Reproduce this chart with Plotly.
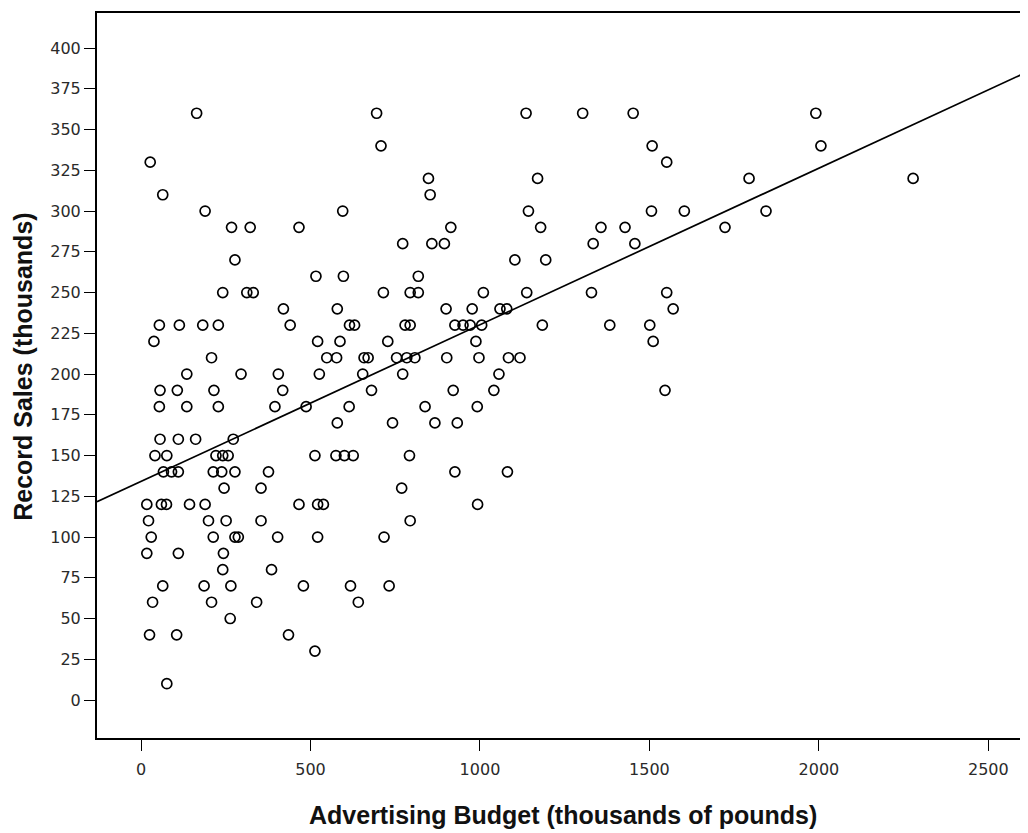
import plotly.graph_objects as go

# Record sales (thousands) rows and advertising budgets (thousands of pounds)
rows = {
    360: [164, 695, 1136, 1303, 1452, 1991],
    340: [708, 1508, 2006],
    330: [27, 1551],
    320: [848, 1170, 1794, 2278],
    310: [64, 853],
    300: [189, 595, 1143, 1506, 1603, 1844],
    290: [267, 322, 466, 914, 1179, 1357, 1428, 1723],
    280: [772, 858, 895, 1334, 1457],
    270: [277, 1103, 1194],
    260: [516, 597, 818],
    250: [241, 312, 331, 715, 794, 818, 1010, 1138, 1329, 1551],
    240: [420, 579, 900, 977, 1059, 1079, 1570],
    230: [54, 113, 182, 228, 440, 615, 630, 779, 794, 926, 950, 971, 1005, 1184, 1383, 1501],
    220: [38, 521, 587, 728, 988, 1511],
    210: [208, 548, 577, 658, 670, 754, 784, 808, 902, 997, 1084, 1118],
    200: [135, 295, 405, 526, 654, 772, 1056],
    190: [56, 107, 215, 418, 680, 921, 1041, 1546],
    180: [54, 135, 228, 395, 487, 614, 838, 992],
    170: [579, 742, 867, 933],
    160: [56, 110, 161, 272],
    150: [41, 76, 221, 241, 257, 513, 575, 600, 626, 792],
    140: [66, 90, 110, 213, 238, 277, 376, 926, 1081],
    130: [245, 354, 769],
    120: [17, 60, 75, 143, 189, 466, 521, 538, 993],
    110: [22, 199, 251, 354, 794],
    100: [30, 213, 277, 287, 403, 521, 717],
    90: [17, 110, 243],
    80: [241, 385],
    70: [64, 186, 265, 479, 618, 732],
    60: [34, 208, 341, 641],
    50: [263],
    40: [25, 105, 435],
    30: [513],
    10: [76],
}

adverts = []
sales = []
for s, xs in rows.items():
    for a in xs:
        adverts.append(a)
        sales.append(s)

# Fit line
fit_intercept = 134.1
fit_slope = 0.0961
x_range = [-130, 2617]
y_range = [-23.3, 421.5]

x_ticks = [0, 500, 1000, 1500, 2000, 2500]
y_ticks = list(range(0, 401, 25))

x_title = "Advertising Budget (thousands of pounds)"
y_title = "Record Sales (thousands)"

fig = go.Figure()
fig.add_trace(go.Scatter(
    x=adverts, y=sales, mode="markers",
    marker=dict(symbol="circle-open", size=10, color="black", line=dict(width=1.7, color="black")),
    showlegend=False, hoverinfo="skip",
))
fig.add_trace(go.Scatter(
    x=x_range, y=[fit_intercept + fit_slope * v for v in x_range], mode="lines",
    line=dict(color="black", width=1.7), showlegend=False, hoverinfo="skip",
))

tickfont = dict(family="DejaVu Sans, Verdana, sans-serif", size=16, color="#2a2a2a")
titlefont = dict(family="Liberation Sans, Arial, sans-serif", size=25, color="#111")

fig.update_layout(
    width=1020, height=825,
    margin=dict(l=89, r=0, t=5, b=95, autoexpand=False),
    paper_bgcolor="white", plot_bgcolor="white",
    xaxis=dict(
        range=x_range, tickvals=x_ticks, ticktext=[str(v) for v in x_ticks],
        showgrid=False, zeroline=False, showline=True, linecolor="black", linewidth=2,
        mirror=True, ticks="outside", ticklen=11, tickcolor="black", tickwidth=1.2,
        tickfont=tickfont, automargin=False, ticklabelstandoff=5,
    ),
    yaxis=dict(
        range=y_range, tickvals=y_ticks, ticktext=[str(v) for v in y_ticks],
        showgrid=False, zeroline=False, showline=True, linecolor="black", linewidth=2,
        ticks="outside", ticklen=11, tickcolor="black", tickwidth=1.2,
        tickfont=tickfont, automargin=False,
    ),
    annotations=[
        dict(text="<b>%s</b>" % x_title, xref="paper", yref="paper", x=0.5005, y=-0.106,
             xanchor="center", yanchor="middle", showarrow=False, font=titlefont),
        dict(text="<b>%s</b>" % y_title, xref="paper", yref="paper", x=-0.0795, y=0.512,
             xanchor="center", yanchor="middle", textangle=-90, showarrow=False, font=titlefont),
    ],
)

fig.write_html("out.html")
